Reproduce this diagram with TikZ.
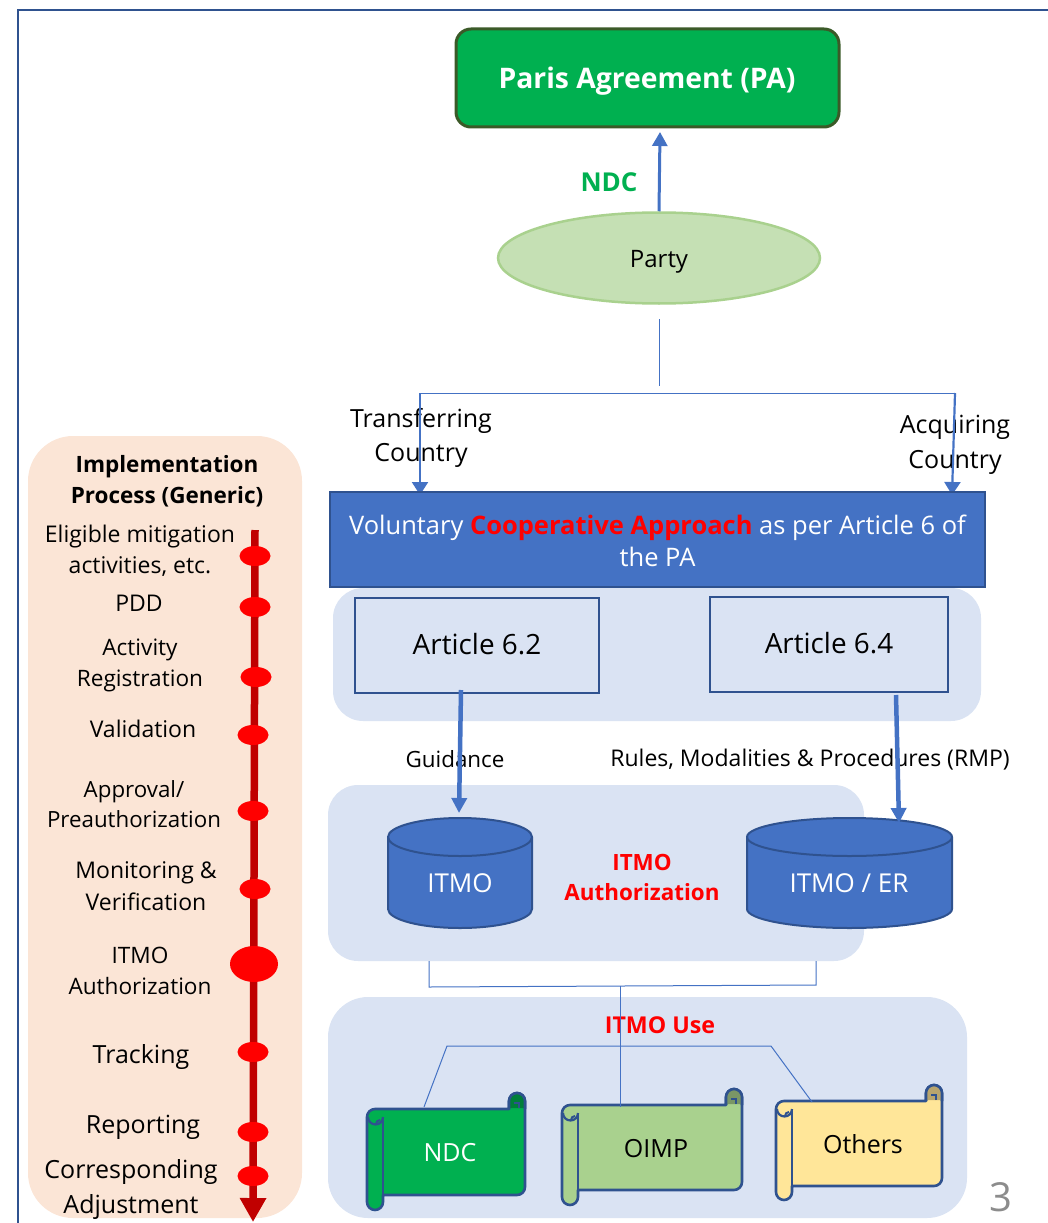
\documentclass[tikz,border=0pt]{standalone}
\usepackage{fontspec}
\setmainfont{Open Sans}
\usetikzlibrary{arrows.meta,shapes.geometric,calc}
\definecolor{panelblue}{HTML}{DAE3F3}
\definecolor{peach}{HTML}{FBE5D6}
\definecolor{mainblue}{HTML}{4472C4}
\definecolor{darkblue}{HTML}{2F528F}
\definecolor{pagrn}{HTML}{00B050}
\definecolor{padark}{HTML}{3B5A28}
\definecolor{partyfill}{HTML}{C5E0B4}
\definecolor{partyline}{HTML}{A9D18E}
\definecolor{oimp}{HTML}{A9D18E}
\definecolor{others}{HTML}{FFE699}
\definecolor{darkred}{HTML}{C00000}
\newdimen\pixu \pixu=0.75pt
\newcommand{\fs}[1]{\fontsize{#1\pixu}{#1\pixu}\selectfont}
\tikzset{
  panel/.style={fill=panelblue,draw=none,rounded corners=30\pixu,inner sep=0pt},
  artbox/.style={draw=darkblue,line width=2\pixu,fill=panelblue,inner sep=0pt},
  arttext/.style={font=\fs{27.9},inner sep=0pt},
  thin conn/.style={draw=mainblue,line width=1\pixu},
  thick conn/.style={draw=mainblue,line width=4.5\pixu,-{Triangle[width=11.25pt,length=11.25pt]}},
  mid conn/.style={draw=mainblue,line width=2.2\pixu,-{Triangle[width=12pt,length=9.75pt]}},
  lbl/.style={align=center,font=\fs{25},inner sep=0pt,text=black},
  step text/.style={align=center,font=\fs{23},inner sep=0pt,text=black},
  dot/.style={ellipse,fill=red,draw=none,inner sep=0pt,minimum width=31\pixu,minimum height=20\pixu},
  cyl/.style={darkblue,line width=2\pixu,fill=mainblue},
  cyltext/.style={font=\fs{26},text=white,inner sep=0pt},
}
\newcommand{\scrollshape}[9]{%
  \draw[darkblue,line width=2.6\pixu,fill=#7,line join=round,rounded corners=0pt]
    (#2,#6-8) -- (#2,#3+9) arc[start angle=180,end angle=270,radius=8] -- (#4-16,#3+1) -- (#4-16,#3-7)
    arc[start angle=180,end angle=360,radius=8] -- (#4,#5-8) arc[start angle=0,end angle=90,radius=8]
    -- (#2+16,#5) -- (#2+16,#6-8) arc[start angle=0,end angle=180,radius=8] -- cycle;
  \fill[#7!72!black] (#4-16,#3-7) arc[start angle=180,end angle=360,radius=8] -- (#4,#3) -- (#4-16,#3) -- cycle;
  \draw[darkblue,line width=2.6\pixu] (#4-16,#3+1) -- (#4-16,#3-7) arc[start angle=180,end angle=360,radius=8] -- (#4,#3+1);
  \draw[darkblue,line width=2\pixu] (#4-6,#3) -- (#4-6,#3-5) -- (#4-11,#3-5);
  \draw[darkblue,line width=2.6\pixu] (#2+16,#5) -- (#2+16,#3+9);
  \draw[darkblue,line width=2.2\pixu] (#2+16,#3+9) arc[start angle=0,end angle=180,radius=7.5];
  \draw[darkblue,line width=2\pixu] (#2+9,#3+16) arc[start angle=180,end angle=270,radius=4];
  \node[font=\fs{25},text=#8,inner sep=0pt] (#1) at ({(#2+16+#4)/2-4},{(#3+#5)/2+1.2}) {#9};
}
\begin{document}
\begin{tikzpicture}[x=0.75pt,y=-0.75pt]
\useasboundingbox (0,0) rectangle (1048,1223);
% frame
\coordinate (frameA) at (18,1223);
\coordinate (frameB) at (18,10);
\coordinate (frameC) at (1048,10);
\draw[darkblue,line width=2\pixu] (frameA) -- (frameB) -- (frameC);

% left panel
\node[fill=peach,rounded corners=45\pixu,minimum width=274\pixu,minimum height=782\pixu,inner sep=0pt] (proc) at (165,827) {};

% blue panels
\node[panel,minimum width=648\pixu,minimum height=133\pixu] (panelA) at (657,654.5) {};
\node[panel,minimum width=536\pixu,minimum height=176\pixu] (panelB) at (596,873) {};
\node[panel,rounded corners=40\pixu,minimum width=639\pixu,minimum height=221\pixu] (panelC) at (647.5,1107.5) {};

% top
\node[draw=padark,line width=3\pixu,fill=pagrn,rounded corners=15\pixu,minimum width=383\pixu,minimum height=98\pixu,inner sep=0pt] (pa) at (647.5,78) {};
\node[text=white,font=\bfseries\fs{28.3},inner sep=0pt] (patext) at (647,81) {Paris Agreement (PA)};
\node[ellipse,draw=partyline,line width=2.5\pixu,fill=partyfill,minimum width=322\pixu,minimum height=91\pixu,inner sep=0pt] (party) at (659,258) {};
\node[font=\fs{24},inner sep=0pt] (partytext) at (659,262) {Party};
\node[font=\bfseries\fs{26},text=pagrn,inner sep=0pt] (ndclabel) at (609,182) {NDC};
\coordinate (paIn) at (660,132);
\draw[draw=mainblue,line width=3\pixu,-{Triangle[width=11.25pt,length=10.5pt]}] (party.north) -- (paIn);

% split
\coordinate (stubTop) at (659,319);
\coordinate (stubBot) at (659,386);
\coordinate (splitL) at (420,393);
\coordinate (splitR) at (955,393);
\coordinate (bannerL) at (420,495);
\coordinate (bannerR) at (952,495);

\node[lbl] (transfer) at (421,437.5) {Transferring\\[9\pixu]Country};
\node[lbl] (acquire) at (955,444.5) {Acquiring\\[10\pixu]Country};

\draw[thin conn] (stubTop) -- (stubBot);
\draw[thin conn] (splitL) -- (splitR);
\draw[mid conn] (splitL) -- (bannerL);
\draw[mid conn] (splitR) -- (bannerR);

% banner
\node[draw=darkblue,line width=2\pixu,fill=mainblue,minimum width=655\pixu,minimum height=95\pixu,inner sep=0pt] (banner) at (657.5,539.5) {};
\node[text=white,align=center,font=\fs{25.5},inner sep=0pt] (bannertext) at (657.5,541) {Voluntary {\bfseries\color{red}Cooperative Approach} as per Article 6 of\\[7\pixu]the PA};

% articles
\node[artbox,minimum width=244\pixu,minimum height=95\pixu] (art62) at (477,645.5) {};
\node[arttext] (art62t) at (477,644.5) {Article 6.2};
\node[artbox,minimum width=238\pixu,minimum height=95\pixu] (art64) at (829,644.5) {};
\node[arttext] (art64t) at (829,643.5) {Article 6.4};

% labels
\node[lbl,font=\fs{22.4}] (guid) at (455,759) {Guidance};
\node[lbl,font=\fs{23}] (rmp) at (810,760) {Rules, Modalities \& Procedures (RMP)};

% cylinders
\draw[cyl] (388,837) -- (388,909) arc[x radius=72,y radius=19,start angle=180,end angle=0] -- (532,837) arc[x radius=72,y radius=19,start angle=0,end angle=-180] -- cycle;
\draw[cyl,fill=none] (388,837) arc[x radius=72,y radius=19,start angle=180,end angle=0];
\node[cyltext] (itmo) at (460,883) {ITMO};
\draw[cyl] (747,837) -- (747,909) arc[x radius=102.5,y radius=19,start angle=180,end angle=0] -- (952,837) arc[x radius=102.5,y radius=19,start angle=0,end angle=-180] -- cycle;
\draw[cyl,fill=none] (747,837) arc[x radius=102.5,y radius=19,start angle=180,end angle=0];
\node[cyltext] (itmoer) at (849,883) {ITMO / ER};

\coordinate (a62out) at (461,690);
\coordinate (itmoIn) at (459,813);
\coordinate (a64out) at (896,695);
\coordinate (itmoerIn) at (899,823);
\draw[thick conn] (a62out) -- (itmoIn);
\draw[thick conn] (a64out) -- (itmoerIn);

\node[align=center,text=red,font=\bfseries\fs{22.4},inner sep=0pt] (auth) at (642,877.5) {ITMO\\[8\pixu]Authorization};

% merge lines
\coordinate (mL) at (429,961);
\coordinate (mLb) at (429,987);
\coordinate (mRb) at (816,985);
\coordinate (mR) at (816,961);
\coordinate (mC) at (620,986);
\coordinate (mCb) at (620,1107);
\coordinate (useL) at (447,1046);
\coordinate (useR) at (771,1046);
\coordinate (useLb) at (424,1107);
\coordinate (useRb) at (812,1102);
\draw[thin conn] (mL) -- (mLb) -- (mRb) -- (mR);

\node[text=red,font=\bfseries\fs{23.2},inner sep=0pt] (use) at (660,1025) {ITMO Use};

% scrolls
\scrollshape{ndc}{367}{1108}{525}{1195}{1210}{pagrn}{white}{NDC}
\scrollshape{oimpn}{562}{1104}{742}{1190}{1205}{oimp}{black}{OIMP}
\scrollshape{oth}{776}{1100}{942}{1186}{1200}{others}{black}{Others}

\draw[thin conn] (mC) -- (mCb);
\draw[thin conn] (useLb) -- (useL) -- (useR) -- (useRb);

% page number
\node[text=black!45,font=\fs{40},inner sep=0pt] (pagenum) at (1001,1197) {3};

% timeline
\node[align=center,font=\bfseries\fs{22.5},inner sep=0pt] (proctitle) at (167,481) {Implementation\\[8\pixu]Process (Generic)};
\coordinate (tlTop) at (255,530);
\coordinate (tlBot) at (253,1222);
\draw[darkred,line width=7.5\pixu,-{Triangle[width=18.75pt,length=18pt]}] (tlTop) -- (tlBot);

\node[dot] (d1) at (255,556) {};
\node[dot] (d2) at (255,607) {};
\node[dot] (d3) at (256,677) {};
\node[dot] (d4) at (253,735) {};
\node[dot] (d5) at (253,811) {};
\node[dot] (d6) at (255,889) {};
\node[dot,minimum width=48\pixu,minimum height=36\pixu] (d7) at (254,964) {};
\node[dot] (d8) at (253,1052) {};
\node[dot] (d9) at (253,1132) {};
\node[dot] (d10) at (253,1176) {};

\node[step text] (s1) at (140,551) {Eligible mitigation\\[8\pixu]activities, etc.};
\node[step text] (s2) at (139,603) {PDD};
\node[step text,font=\fs{22.6}] (s3) at (140,665.5) {Activity\\[8\pixu]Registration};
\node[step text] (s4) at (143,729) {Validation};
\node[step text,font=\fs{22.3}] (s5) at (134,804) {Approval/\\[8\pixu]Preauthorization};
\node[step text] (s6) at (146,886) {Monitoring \&\\[8\pixu]Verification};
\node[step text,font=\fs{22.6}] (s7) at (140,971) {ITMO\\[8\pixu]Authorization};
\node[step text,font=\fs{25}] (s8) at (141,1057) {Tracking};
\node[step text,font=\fs{25}] (s9) at (143,1127) {Reporting};
\node[step text,font=\fs{25}] (s10) at (131,1189) {Corresponding\\[10\pixu]Adjustment};
\end{tikzpicture}
\end{document}
